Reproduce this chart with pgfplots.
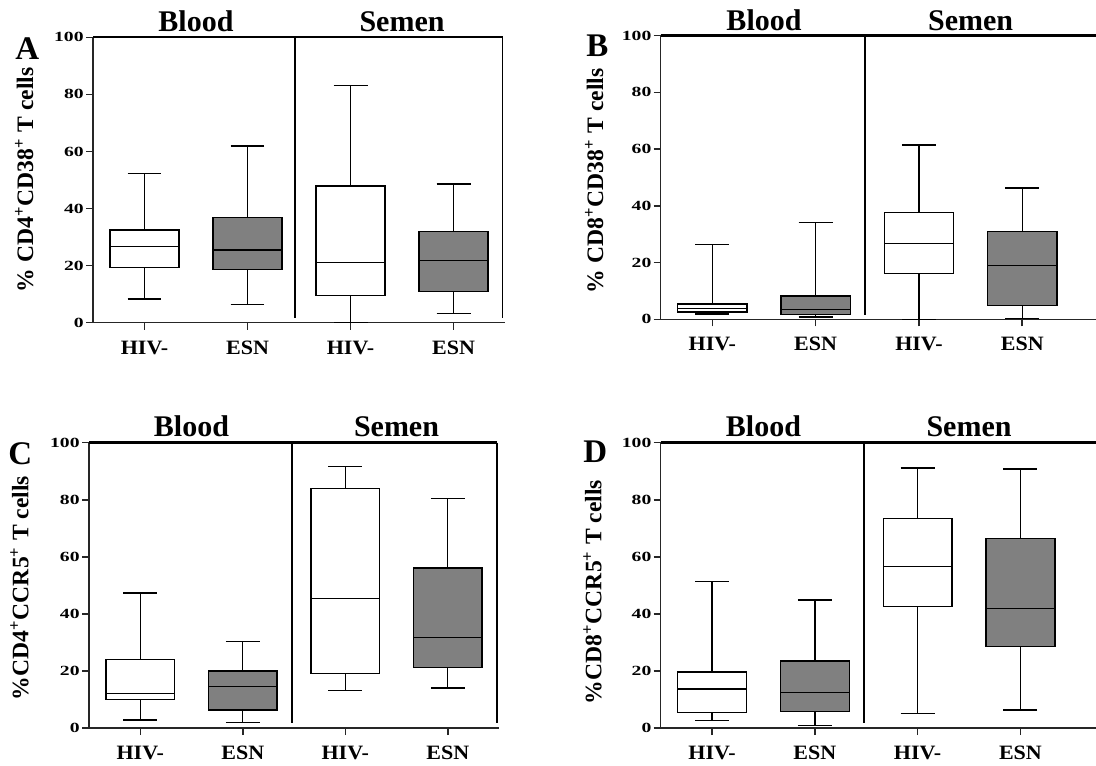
\documentclass[border=0pt]{standalone}
\usepackage{fontspec}
\setmainfont{Liberation Serif}
\usepackage{pgfplots}
\pgfplotsset{compat=1.18}
\usepgfplotslibrary{statistics}

\newcommand{\tl}[1]{\scalebox{1.4}[1]{#1}}
\newcommand{\xl}[1]{\scalebox{1.08}[1]{#1}}

\pgfplotsset{
 panel/.style={
  scale only axis, anchor=south west,
  xmin=0.5, ymin=0, ymax=100,
  axis x line*=bottom, axis y line*=left,
  axis line style={line width=0.75pt, black!85},
  xtick={1,2,3,4}, xticklabels={\xl{HIV-},\xl{ESN},\xl{HIV-},\xl{ESN}},
  ytick={0,20,40,60,80,100}, yticklabels={\tl{0},\tl{20},\tl{40},\tl{60},\tl{80},\tl{100}},
  tick align=outside, major tick length=3.5pt,
  tick style={line width=0.75pt, black!85},
  x tick label style={font=\fontsize{10.2}{12}\selectfont\bfseries, yshift=-2pt},
  y tick label style={font=\fontsize{7}{8}\selectfont\bfseries, inner sep=1pt},
  clip=false,
  boxplot/draw direction=y,
 },
 hiv/.style={draw=black, fill=white, line width=0.72pt, solid},
 esn/.style={draw=black, fill=gray, line width=0.72pt, solid},
}

\begin{document}
\begin{tikzpicture}
\path[use as bounding box] (0,0) rectangle (548pt,382.5pt);
\clip (0,0) rectangle (548pt,382.5pt);

% ---------- Panel A ----------
\begin{axis}[panel, at={(46.5pt,221.15pt)}, width=206pt, height=142.7pt, xmax=4.5]
\addplot[hiv, boxplot prepared={draw position=1, lower whisker=8.3, lower quartile=19.4, median=26.6, upper quartile=32.5, upper whisker=52.2, box extend=0.67, whisker extend=0.33}] coordinates {};
\addplot[esn, boxplot prepared={draw position=2, lower whisker=6.3, lower quartile=18.7, median=25.4, upper quartile=36.9, upper whisker=61.9, box extend=0.67, whisker extend=0.33}] coordinates {};
\addplot[hiv, boxplot prepared={draw position=3, lower whisker=0, lower quartile=9.6, median=21.1, upper quartile=47.9, upper whisker=83.1, box extend=0.67, whisker extend=0.33}] coordinates {};
\addplot[esn, boxplot prepared={draw position=4, lower whisker=3.3, lower quartile=10.9, median=21.7, upper quartile=32.0, upper whisker=48.6, box extend=0.67, whisker extend=0.33}] coordinates {};
\draw[line width=1.2pt] (axis cs:0.5,100) -- (axis cs:4.476,100);
\draw[line width=0.9pt] (axis cs:4.476,100) -- (axis cs:4.476,1.5);
\draw[line width=0.9pt] (axis cs:2.46,100) -- (axis cs:2.46,1.5);
\node[anchor=base, font=\fontsize{15}{18}\selectfont\bfseries, yshift=2.8pt] at (axis cs:1.5,100) {Blood};
\node[anchor=base, font=\fontsize{15}{18}\selectfont\bfseries, yshift=2.8pt] at (axis cs:3.5,100) {Semen};
\end{axis}

% ---------- Panel B ----------
\begin{axis}[panel, at={(330.35pt,222.85pt)}, width=219.5pt, height=141.8pt, xmax=4.75]
\addplot[hiv, boxplot prepared={draw position=1, lower whisker=1.8, lower quartile=2.5, median=3.9, upper quartile=5.4, upper whisker=26.3, box extend=0.67, whisker extend=0.33}] coordinates {};
\addplot[esn, boxplot prepared={draw position=2, lower whisker=0.8, lower quartile=1.6, median=3.5, upper quartile=8.2, upper whisker=34.1, box extend=0.67, whisker extend=0.33}] coordinates {};
\addplot[hiv, boxplot prepared={draw position=3, lower whisker=0, lower quartile=16.2, median=26.7, upper quartile=37.6, upper whisker=61.5, box extend=0.67, whisker extend=0.33}] coordinates {};
\addplot[esn, boxplot prepared={draw position=4, lower whisker=0.2, lower quartile=4.8, median=19.0, upper quartile=30.9, upper whisker=46.3, box extend=0.67, whisker extend=0.33}] coordinates {};
\draw[line width=1.2pt] (axis cs:0.5,100) -- (axis cs:4.75,100);
\draw[line width=0.9pt] (axis cs:2.48,100) -- (axis cs:2.48,1.5);
\node[anchor=base, font=\fontsize{15}{18}\selectfont\bfseries, yshift=2.8pt] at (axis cs:1.5,100) {Blood};
\node[anchor=base, font=\fontsize{15}{18}\selectfont\bfseries, yshift=2.8pt] at (axis cs:3.5,100) {Semen};
\end{axis}

% ---------- Panel C ----------
\begin{axis}[panel, at={(44.5pt,18.5pt)}, width=205pt, height=142.65pt, xmax=4.5]
\addplot[hiv, boxplot prepared={draw position=1, lower whisker=2.8, lower quartile=10.0, median=12.0, upper quartile=24.1, upper whisker=47.3, box extend=0.67, whisker extend=0.33}] coordinates {};
\addplot[esn, boxplot prepared={draw position=2, lower whisker=1.9, lower quartile=6.3, median=14.6, upper quartile=20.0, upper whisker=30.4, box extend=0.67, whisker extend=0.33}] coordinates {};
\addplot[hiv, boxplot prepared={draw position=3, lower whisker=13.1, lower quartile=19.2, median=45.4, upper quartile=83.9, upper whisker=91.7, box extend=0.67, whisker extend=0.33}] coordinates {};
\addplot[esn, boxplot prepared={draw position=4, lower whisker=14.0, lower quartile=21.3, median=31.8, upper quartile=56.1, upper whisker=80.5, box extend=0.67, whisker extend=0.33}] coordinates {};
\draw[line width=1.2pt] (axis cs:0.5,100) -- (axis cs:4.48,100);
\draw[line width=0.9pt] (axis cs:4.48,100) -- (axis cs:4.48,1.6);
\draw[line width=0.9pt] (axis cs:2.48,100) -- (axis cs:2.48,1.6);
\node[anchor=base, font=\fontsize{15}{18}\selectfont\bfseries, yshift=3pt] at (axis cs:1.5,100) {Blood};
\node[anchor=base, font=\fontsize{15}{18}\selectfont\bfseries, yshift=3pt] at (axis cs:3.5,100) {Semen};
\end{axis}

% ---------- Panel D ----------
\begin{axis}[panel, at={(330.35pt,18.5pt)}, width=218.4pt, height=142.65pt, xmax=4.75]
\addplot[hiv, boxplot prepared={draw position=1, lower whisker=2.6, lower quartile=5.5, median=13.7, upper quartile=19.7, upper whisker=51.3, box extend=0.67, whisker extend=0.33}] coordinates {};
\addplot[esn, boxplot prepared={draw position=2, lower whisker=0.9, lower quartile=5.7, median=12.4, upper quartile=23.5, upper whisker=44.9, box extend=0.67, whisker extend=0.33}] coordinates {};
\addplot[hiv, boxplot prepared={draw position=3, lower whisker=5.0, lower quartile=42.6, median=56.7, upper quartile=73.4, upper whisker=91.1, box extend=0.67, whisker extend=0.33}] coordinates {};
\addplot[esn, boxplot prepared={draw position=4, lower whisker=6.3, lower quartile=28.5, median=41.8, upper quartile=66.4, upper whisker=90.8, box extend=0.67, whisker extend=0.33}] coordinates {};
\draw[line width=1.2pt] (axis cs:0.5,100) -- (axis cs:4.75,100);
\draw[line width=0.9pt] (axis cs:2.475,100) -- (axis cs:2.475,1.6);
\node[anchor=base, font=\fontsize{15}{18}\selectfont\bfseries, yshift=3pt] at (axis cs:1.5,100) {Blood};
\node[anchor=base, font=\fontsize{15}{18}\selectfont\bfseries, yshift=3pt] at (axis cs:3.5,100) {Semen};
\end{axis}

% panel letters
\node[anchor=base west, font=\fontsize{16.5}{18}\selectfont\bfseries, inner sep=0pt] at (7.5pt,352.5pt) {A};
\node[anchor=base west, font=\fontsize{16.5}{18}\selectfont\bfseries, inner sep=0pt] at (293pt,354pt) {B};
\node[anchor=base west, font=\fontsize{16.5}{18}\selectfont\bfseries, inner sep=0pt] at (4pt,150pt) {C};
\node[anchor=base west, font=\fontsize{16.5}{18}\selectfont\bfseries, inner sep=0pt] at (291.5pt,151pt) {D};

% y labels
\node[rotate=90, anchor=base, font=\fontsize{11.8}{13}\selectfont\bfseries, inner sep=0pt] at (16.5pt,292.5pt) {\% CD4\textsuperscript{+}CD38\textsuperscript{+} T cells};
\node[rotate=90, anchor=base, font=\fontsize{11.8}{13}\selectfont\bfseries, inner sep=0pt] at (301.5pt,292pt) {\% CD8\textsuperscript{+}CD38\textsuperscript{+} T cells};
\node[rotate=90, anchor=base, font=\fontsize{11.8}{13}\selectfont\bfseries, inner sep=0pt] at (14.2pt,88.5pt) {\%CD4\textsuperscript{+}CCR5\textsuperscript{+} T cells};
\node[rotate=90, anchor=base, font=\fontsize{11.8}{13}\selectfont\bfseries, inner sep=0pt] at (300.7pt,86.5pt) {\%CD8\textsuperscript{+}CCR5\textsuperscript{+} T cells};
\end{tikzpicture}
\end{document}
